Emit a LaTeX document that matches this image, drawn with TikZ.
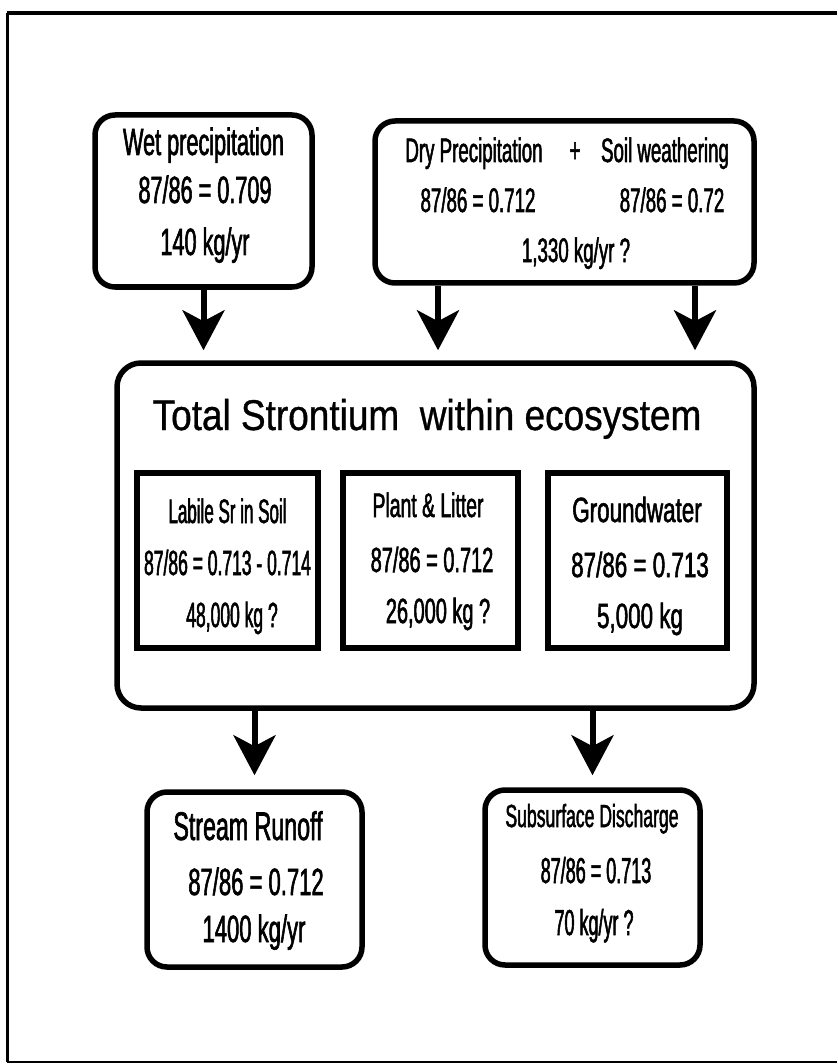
\documentclass[tikz,border=0pt]{standalone}
\usepackage{fontspec}
\setmainfont{Liberation Sans}
\newfontfamily\fTitle[FakeStretch=0.86,FakeBold=0.8]{Liberation Sans}
\newfontfamily\fWet[FakeStretch=0.57,FakeBold=1.5]{Liberation Sans}
\newfontfamily\fDry[FakeStretch=0.55,FakeBold=1.5]{Liberation Sans}
\newfontfamily\fLab[FakeStretch=0.50,FakeBold=1.5]{Liberation Sans}
\newfontfamily\fPla[FakeStretch=0.57,FakeBold=1.5]{Liberation Sans}
\newfontfamily\fGw[FakeStretch=0.64,FakeBold=1.5]{Liberation Sans}
\newfontfamily\fStr[FakeStretch=0.58,FakeBold=1.5]{Liberation Sans}
\newfontfamily\fSub[FakeStretch=0.55,FakeBold=1.5]{Liberation Sans}
\newcommand\fs[1]{\fontsize{#1pt}{#1pt}\selectfont}
\usetikzlibrary{arrows.meta}
\begin{document}
\begin{tikzpicture}[x=1pt,y=-1pt,
  rbox/.style={draw,line width=5.5pt,rounded corners=20pt,inner sep=0pt},
  sbox/.style={draw,line width=5.5pt,inner sep=0pt},
  txt/.style={anchor=base,inner sep=0pt},
  arr/.style={line width=6pt,-{Stealth[length=40pt,width=42pt,inset=11pt]}}]
\useasboundingbox (0,0) rectangle (837,1064);
% outer frame
\draw[line width=4pt] (7,13) -- (837,13);
\draw[line width=3pt] (7,13) -- (7,1062);
\draw[line width=2pt] (7,1062) -- (837,1062);
% boxes
\node[rbox,minimum width=217pt,minimum height=172pt] (wet) at (203.5,201) {};
\node[rbox,minimum width=379pt,minimum height=162pt] (dry) at (564.5,202) {};
\node[rbox,rounded corners=24pt,minimum width=637pt,minimum height=345pt] (total) at (435.5,535.5) {};
\node[sbox,minimum width=181pt,minimum height=175pt] (labile) at (227.5,560.5) {};
\node[sbox,minimum width=175pt,minimum height=175pt] (plant) at (430.5,560.5) {};
\node[sbox,minimum width=179pt,minimum height=175pt] (ground) at (637.5,560.5) {};
\node[rbox,minimum width=215pt,minimum height=175pt] (stream) at (254.5,879.5) {};
\node[rbox,minimum width=215pt,minimum height=175pt] (sub) at (592.5,877.5) {};
% texts: wet
\node[txt,font=\fWet\fs{38}] (w1) at (203.5,155) {Wet precipitation};
\node[txt,font=\fWet\fs{38}] (w2) at (205,203) {87/86 = 0.709};
\node[txt,font=\fWet\fs{38}] (w3) at (205,255) {140 kg/yr};
% dry
\node[txt,font=\fDry\fs{34}] (d1) at (474,162) {Dry Precipitation};
\node[txt,font=\fDry\fs{34}] (d2) at (575,162) {+};
\node[txt,font=\fDry\fs{34}] (d3) at (665,162) {Soil weathering};
\node[txt,font=\fDry\fs{34}] (d4) at (478,212) {87/86 = 0.712};
\node[txt,font=\fDry\fs{34}] (d5) at (672,212) {87/86 = 0.72};
\node[txt,font=\fDry\fs{34}] (d6) at (576,262) {1,330 kg/yr ?};
% title
\node[txt,font=\fTitle\fs{43}] (title) at (427,430) {Total Strontium\ \ within ecosystem};
% labile
\node[txt,font=\fLab\fs{34}] (l1) at (227.5,523) {Labile Sr in Soil};
\node[txt,font=\fLab\fs{35}] (l2) at (227.5,575) {87/86 = 0.713 - 0.714};
\node[txt,font=\fLab\fs{35}] (l3) at (232,627) {48,000 kg ?};
% plant
\node[txt,font=\fPla\fs{34}] (p1) at (428,517) {Plant \& Litter};
\node[txt,font=\fPla\fs{35}] (p2) at (432,572) {87/86 = 0.712};
\node[txt,font=\fPla\fs{35}] (p3) at (438,623) {26,000 kg ?};
% groundwater
\node[txt,font=\fGw\fs{35}] (g1) at (637,522) {Groundwater};
\node[txt,font=\fGw\fs{35}] (g2) at (640,577) {87/86 = 0.713};
\node[txt,font=\fGw\fs{35}] (g3) at (640,628) {5,000 kg};
% stream
\node[txt,font=\fStr\fs{40}] (s1) at (248,840) {Stream Runoff};
\node[txt,font=\fStr\fs{38}] (s2) at (256,895) {87/86 = 0.712};
\node[txt,font=\fStr\fs{38}] (s3) at (254,942) {1400 kg/yr};
% subsurface
\node[txt,font=\fSub\fs{32}] (u1) at (592,827) {Subsurface Discharge};
\node[txt,font=\fLab\fs{36}] (u2) at (596,883) {87/86 = 0.713};
\node[txt,font=\fLab\fs{36}] (u3) at (594,935) {70 kg/yr ?};
% arrows
\draw[arr,shorten >=10pt] (wet.south) -- (wet.south |- total.north);
\draw[arr,shorten >=10pt] ([xshift=-126.5pt]dry.south) -- ([xshift=-126.5pt]dry.south |- total.north);
\draw[arr,shorten >=10pt] ([xshift=130.5pt]dry.south) -- ([xshift=130.5pt]dry.south |- total.north);
\draw[arr,shorten >=14pt] (total.south -| stream.north) -- (stream.north);
\draw[arr,shorten >=12pt] (total.south -| sub.north) -- (sub.north);
\end{tikzpicture}
\end{document}
